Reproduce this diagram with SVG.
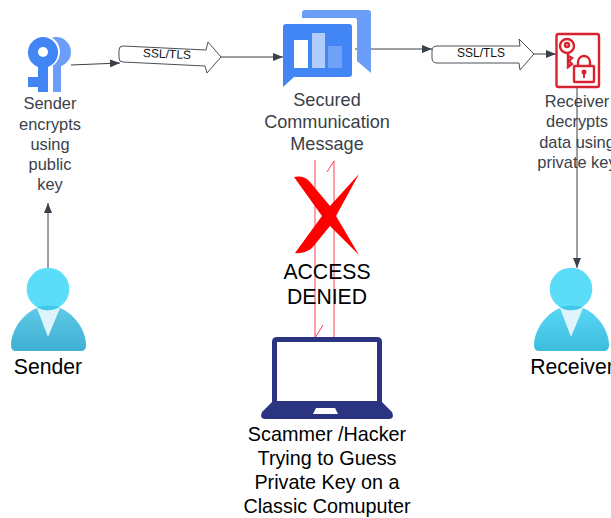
<svg xmlns="http://www.w3.org/2000/svg" width="611" height="518" viewBox="0 0 611 518">
<style>
text{font-family:"Liberation Sans",Arial,sans-serif;text-anchor:middle}
.g{fill:#3a414a;font-size:16.4px}
.m{fill:#3a414a;font-size:18.1px}
.b{fill:#000;font-size:21.2px}
.l{fill:#000;font-size:19.8px}
.s{fill:#111;font-size:12px}
.c{fill:none;stroke:#3a414a;stroke-width:1}
.r{fill:none;stroke:#ff4050;stroke-width:1}
.f{fill:#fff;stroke:#4a5058;stroke-width:1}
.red{fill:none;stroke:#d8232f;stroke-width:2.400}
</style>
<defs>
<marker id="a" markerUnits="userSpaceOnUse" markerWidth="10" markerHeight="8" refX="10" refY="4" orient="auto"><path d="M0 0L10 4L0 8Z" fill="#3a414a"/></marker>
<linearGradient id="b1" x1="0" y1="0" x2="0" y2="1"><stop offset="0" stop-color="#5ec8e6"/><stop offset="1" stop-color="#3fb0d4"/></linearGradient>
<linearGradient id="b2" x1="0" y1="0" x2="0" y2="1"><stop offset="0" stop-color="#58d6f5"/><stop offset="1" stop-color="#3dbddd"/></linearGradient>
<path id="body" d="M-37 56C-37 42 -26 25 -11 19L12 19C27 25 38 42 38 56Q38 62 33 62L-32 62Q-37 62 -37 56Z"/>
<g id="person-top">
<path d="M-11 19L12 19L0 48Z" fill="#dff3fa"/>
<circle cx="0" cy="0" r="21.3" fill="#5bdcf8"/>
<path d="M-11 18Q0 15 12 18Q7 21 0 21.300Q-7 21 -11 18Z" fill="#40c8e8"/>
</g>
</defs>
<g id="connectors">
<path class="c" d="M71 65L120 63" marker-end="url(#a)"/>
<path class="c" d="M221 57L283 57" marker-end="url(#a)"/>
<path class="c" d="M355 49L432 49" marker-end="url(#a)"/>
<path class="c" d="M534 54L556 54" marker-end="url(#a)"/>
<path class="c" d="M577 87L577 268" marker-end="url(#a)"/>
<path class="c" d="M48 268L48 203" marker-end="url(#a)"/>
<path class="r" d="M315 160L315 338L323 325"/>
<path class="r" d="M334 338L334 161L327 172"/>
</g>
<g id="sender-key">
<circle cx="56" cy="52" r="15" fill="#6b9ef8"/>
<rect x="53" y="60" width="8" height="32" fill="#6b9ef8"/>
<circle cx="43" cy="52" r="17" fill="#fff"/>
<path d="M43 37A15.500 15.500 0 0 1 48 67V92H38V87H28V77H38V67A15.500 15.500 0 0 1 43 37Z" fill="#4285f4"/>
<circle cx="43" cy="52" r="5" fill="#fff"/>
<text class="g" x="50" y="109">Sender</text>
<text class="g" x="50" y="130">encrypts</text>
<text class="g" x="50" y="150">using</text>
<text class="g" x="50" y="170">public</text>
<text class="g" x="50" y="190">key</text>
</g>
<g id="ssl-1">
<path class="f" d="M123 46L206 50L208 42L221 57L207 73L205 66L123 62Q119 62 119 58V50Q119 46 123 46Z"/>
<text class="s" x="167" y="58" transform="rotate(2.500 167 54)">SSL/TLS</text>
</g>
<g id="message">
<path d="M305 10H368Q371 10 371 13V73L357 61V20Q357 18 355 18H302V13Q302 10 305 10Z" fill="#6b9ef8"/>
<path d="M286 24H349Q352 24 352 27V74Q352 77 349 77H294L283 87V27Q283 24 286 24Z" fill="#4285f4"/>
<rect x="294" y="40" width="14" height="28" fill="#fff"/>
<rect x="312" y="33" width="13" height="35" fill="#b3cdfb"/>
<rect x="328" y="46" width="14" height="22" fill="#72a2f7"/>
<text class="m" x="327" y="106">Secured</text>
<text class="m" x="327" y="128">Communication</text>
<text class="m" x="327" y="150">Message</text>
</g>
<g id="ssl-2">
<path class="f" d="M437 46H520L519 39L534 54L520 70L519 63H437Q432 63 432 58V51Q432 46 437 46Z"/>
<text class="s" x="481" y="57">SSL/TLS</text>
</g>
<g id="receiver-key">
<rect class="red" x="556.500" y="34" width="42.500" height="53" rx="2"/>
<circle class="red" cx="567" cy="46" r="7"/>
<circle class="red" cx="567" cy="45" r="2"/>
<path class="red" d="M568 53V67L572 64L569 61L572 58L568.500 56"/>
<rect class="red" x="574" y="66" width="20" height="16" rx="1"/>
<path class="red" d="M578 66V62A6 6 0 0 1 590 62V66"/>
<circle cx="584" cy="72" r="2.500" fill="#d8232f"/>
<rect x="583" y="72" width="2" height="6" fill="#d8232f"/>
<text class="g" x="577" y="107">Receiver</text>
<text class="g" x="577" y="127">decrypts</text>
<text class="g" x="577" y="148">data using</text>
<text class="g" x="577" y="168">private key</text>
</g>
<g id="sender"><use href="#body" x="48" y="289" fill="url(#b1)"/><use href="#person-top" x="48" y="289"/><text class="b" x="48" y="374">Sender</text></g>
<g id="receiver"><use href="#body" x="571" y="289" fill="url(#b2)"/><use href="#person-top" x="571" y="289"/><text class="b" x="572" y="374">Receiver</text></g>
<g id="denied">
<path d="M294 177Q304 175 310 182L330 206L359 174L336 216L359 255L330 226L312 248Q305 254 295 253L322 216Z" fill="#ff0000"/>
<text class="b" x="327" y="279">ACCESS</text>
<text class="b" x="327" y="304">DENIED</text>
</g>
<g id="laptop">
<path d="M277 337H377Q382 337 382 342V402L392 412Q395 419 389 419H265Q259 419 262 412L272 402V342Q272 337 277 337Z" fill="#2a3480"/>
<rect x="277" y="342" width="100" height="59" fill="#fff"/>
<path d="M316 408H335L338 414H313Z" fill="#fff"/>
<text class="l" x="327" y="441">Scammer /Hacker</text>
<text class="l" x="327" y="465">Trying to Guess</text>
<text class="l" x="327" y="489">Private Key on a</text>
<text class="l" x="327" y="513">Classic Comuputer</text>
</g>
</svg>
